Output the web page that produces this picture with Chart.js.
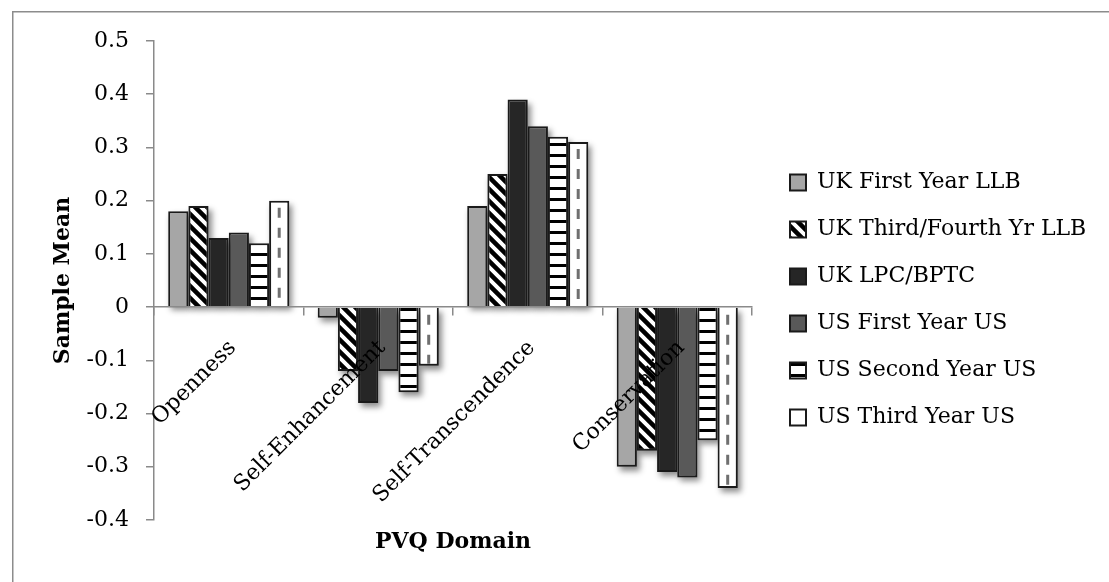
<!DOCTYPE html>
<html><head><meta charset="utf-8">
<script src="https://cdn.jsdelivr.net/npm/chart.js@4.4.1/dist/chart.umd.min.js"></script>
<style>html,body{margin:0;padding:0;background:#fff;}#wrap{position:relative;width:1109px;height:582px;}</style>
</head><body><div id="wrap"><canvas id="c"></canvas></div>
<script>
// ---- data ----
const categories = ['Openness', 'Self-Enhancement', 'Self-Transcendence', 'Conservation'];
const seriesNames = ['UK First Year LLB', 'UK Third/Fourth Yr LLB', 'UK LPC/BPTC', 'US First Year US', 'US Second Year US', 'US Third Year US'];
const ukFirstYear  = [0.18, -0.02, 0.19, -0.30];
const ukThirdYear  = [0.19, -0.12, 0.25, -0.27];
const ukLpcBptc    = [0.13, -0.18, 0.39, -0.31];
const usFirstYear  = [0.14, -0.12, 0.34, -0.32];
const usSecondYear = [0.12, -0.16, 0.32, -0.25];
const usThirdYear  = [0.20, -0.11, 0.31, -0.34];
const yTickValues  = [-0.4, -0.3, -0.2, -0.1, 0, 0.1, 0.2, 0.3, 0.4, 0.5];
const yTickLabels  = ['-0.4', '-0.3', '-0.2', '-0.1', '0', '0.1', '0.2', '0.3', '0.4', '0.5'];
const xTitle = 'PVQ Domain';
const yTitle = 'Sample Mean';

// ---- styles ----
const FONT = '"DejaVu Serif", serif';
const AXIS_GRAY = '#8a8a8a';
const BORDER = '#1a1a1a';

function diagPattern() {
  const c = document.createElement('canvas'); c.width = 12; c.height = 12;
  const g = c.getContext('2d');
  g.fillStyle = '#fff'; g.fillRect(0, 0, 12, 12);
  g.strokeStyle = '#000'; g.lineWidth = 4.5; g.beginPath();
  for (const k of [-12, 0, 12]) { g.moveTo(-2, k - 2); g.lineTo(14, k + 14); }
  g.stroke();
  return g.createPattern(c, 'repeat');
}
function hStripePattern() {
  const c = document.createElement('canvas'); c.width = 8; c.height = 11;
  const g = c.getContext('2d');
  g.fillStyle = '#fff'; g.fillRect(0, 0, 8, 11);
  g.fillStyle = '#000'; g.fillRect(0, 0, 8, 3);
  return g.createPattern(c, 'repeat');
}

const seriesValues = [ukFirstYear, ukThirdYear, ukLpcBptc, usFirstYear, usSecondYear, usThirdYear];
const fills = ['#a6a6a6', diagPattern(), '#262626', '#595959', hStripePattern(), '#ffffff'];

// legend geometry
const LEG_SIZE = 22, LEG_PAD = 25, BOXW = 16;
const PLOT_RIGHT = 752;
const Y2W = 790 - PLOT_RIGHT - LEG_PAD;
const LEGEND_W = 1109 - PLOT_RIGHT - Y2W;

const legendWidthFix = {
  id: 'legendWidthFix',
  beforeLayout(chart) {
    const lg = chart.legend;
    if (lg && !lg.__fixed) {
      const orig = lg.fit;
      lg.fit = function () { orig.call(this); this.width = LEGEND_W; };
      lg.__fixed = true;
    }
  }
};
const outerBorder = {
  id: 'outerBorder',
  beforeDraw(chart) {
    const ctx = chart.ctx; ctx.save();
    ctx.strokeStyle = '#8c8c8c'; ctx.lineWidth = 1.5;
    ctx.strokeRect(12.75, 11.75, 1300, 800);
    ctx.restore();
  }
};
const barDeco = {
  id: 'barDeco',
  beforeDatasetsDraw(chart) {
    const ctx = chart.ctx; ctx.save();
    ctx.shadowColor = 'rgba(0,0,0,0.45)'; ctx.shadowBlur = 6;
    ctx.shadowOffsetX = 3 + 3000; ctx.shadowOffsetY = 4;
    ctx.fillStyle = '#000';
    chart.data.datasets.forEach((ds, i) => {
      chart.getDatasetMeta(i).data.forEach(el => {
        const p = el.getProps(['x', 'y', 'base', 'width'], true);
        ctx.fillRect(p.x - p.width / 2 - 3000, Math.min(p.y, p.base), p.width, Math.abs(p.base - p.y));
      });
    });
    ctx.restore();
  },
  afterDatasetsDraw(chart) {
    const ctx = chart.ctx; ctx.save();
    ctx.strokeStyle = '#6f6f6f'; ctx.lineWidth = 3; ctx.setLineDash([10, 10]); ctx.lineDashOffset = 14;
    chart.getDatasetMeta(5).data.forEach(el => {
      const p = el.getProps(['x', 'y', 'base'], true);
      const top = Math.min(p.y, p.base) + 1, bot = Math.max(p.y, p.base) - 2;
      ctx.beginPath(); ctx.moveTo(p.x, top); ctx.lineTo(p.x, bot); ctx.stroke();
    });
    ctx.restore();
  }
};

new Chart(document.getElementById('c'), {
  type: 'bar',
  data: {
    labels: categories,
    datasets: seriesNames.map((name, i) => ({
      label: name,
      data: seriesValues[i],
      backgroundColor: fills[i],
      borderColor: BORDER,
      borderWidth: 2,
      categoryPercentage: 0.81,
      barPercentage: 1.0,
      xAxisID: 'x', yAxisID: 'y'
    }))
  },
  options: {
    responsive: true, maintainAspectRatio: false, animation: false, devicePixelRatio: 1,
    layout: { padding: { left: 46, top: 41, right: 0, bottom: 23 } },
    plugins: {
      tooltip: { enabled: false },
      legend: {
        position: 'right',
        labels: { font: { family: FONT, size: LEG_SIZE }, color: '#000', boxWidth: BOXW, boxHeight: BOXW, padding: LEG_PAD }
      }
    },
    scales: {
      x: {
        type: 'category', position: { y: 0 }, offset: true,
        grid: { display: true, offset: true, drawOnChartArea: false, drawTicks: true, tickLength: 8, color: AXIS_GRAY, lineWidth: 1.5, z: -1 },
        border: { display: true, color: AXIS_GRAY, width: 1.5, z: 1 },
        ticks: { z: 1, autoSkip: false, minRotation: 45, maxRotation: 45, padding: 20, labelOffset: 4, color: '#000', font: { family: FONT, size: 22 } }
      },
      xt: {
        type: 'category', position: 'bottom', offset: true,
        grid: { display: false, drawTicks: false }, border: { display: false },
        ticks: { display: false },
        title: { display: true, text: xTitle, color: '#000', font: { family: FONT, size: 22, weight: 'bold' }, padding: { top: 8.5, bottom: 4 } },
        afterFit: s => { s.height = 39; }
      },
      y: {
        type: 'linear', position: 'left', min: -0.4, max: 0.5,
        afterBuildTicks: s => { s.ticks = yTickValues.map(v => ({ value: v })); },
        grid: { display: true, drawOnChartArea: false, drawTicks: true, tickLength: 8, color: AXIS_GRAY, lineWidth: 1.5 },
        border: { display: true, color: AXIS_GRAY, width: 1.5 },
        ticks: { padding: 17, color: '#000', font: { family: FONT, size: 22 },
          callback: (v) => { const i = yTickValues.findIndex(t => Math.abs(t - v) < 1e-9); return i >= 0 ? yTickLabels[i] : ''; } },
        title: { display: true, text: yTitle, color: '#000', font: { family: FONT, size: 22, weight: 'bold' }, padding: { top: 4, bottom: 4 } },
        afterFit: s => { s.width = 108; }
      },
      y2: {
        type: 'linear', position: 'right', display: true,
        grid: { display: false, drawTicks: false }, border: { display: false }, ticks: { display: false },
        afterFit: s => { s.width = Y2W; }
      }
    }
  },
  plugins: [legendWidthFix, outerBorder, barDeco]
});
</script>
</body></html>
